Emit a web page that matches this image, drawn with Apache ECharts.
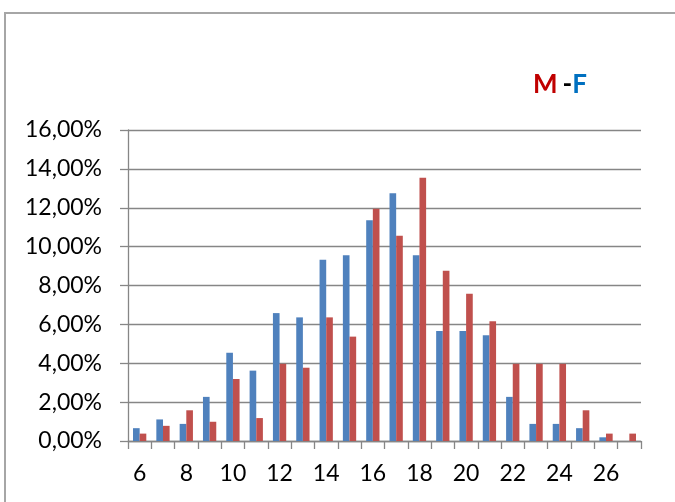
<!DOCTYPE html>
<html>
<head>
<meta charset="utf-8">
<style>
html,body{margin:0;padding:0;background:#fff;}
#chart{width:675px;height:502px;}
</style>
<script src="https://cdn.jsdelivr.net/npm/echarts@6/dist/echarts.min.js"></script>
</head>
<body>
<div id="chart"></div>
<script>
var categories = ['6','7','8','9','10','11','12','13','14','15','16','17','18','19','20','21','22','23','24','25','26','27'];
var femaleValues = [0.66,1.11,0.88,2.27,4.54,3.62,6.58,6.36,9.32,9.56,11.36,12.74,9.56,5.66,5.66,5.44,2.27,0.88,0.88,0.66,0.19,0];
var maleValues = [0.38,0.78,1.58,0.99,3.19,1.18,3.97,3.77,6.36,5.37,11.95,10.56,13.54,8.76,7.57,6.16,3.97,3.97,3.97,1.58,0.38,0.38];
var yMin = 0, yMax = 16, yStep = 2;

var FONT = 'Lato';
var chart = echarts.init(document.getElementById('chart'), null, {renderer: 'canvas'});
chart.setOption({
  animation: false,
  backgroundColor: '#ffffff',
  graphic: [{
    type: 'rect',
    shape: {x: 5, y: 13, width: 700, height: 520},
    style: {fill: 'none', stroke: '#a6a6a6', lineWidth: 2},
    silent: true
  }],
  title: {
    text: '{m|M} {d|-}{f|F}',
    right: 83,
    top: 67,
    textStyle: {
      rich: {
        m: {fontFamily: FONT, fontWeight: 'bold', fontSize: 26, color: '#C00000'},
        d: {fontFamily: FONT, fontWeight: 'bold', fontSize: 26, color: '#000000'},
        f: {fontFamily: FONT, fontWeight: 'bold', fontSize: 26, color: '#0070C0'}
      }
    }
  },
  grid: {left: 128, right: 34, top: 130, bottom: 61, containLabel: false},
  xAxis: {
    type: 'category',
    data: categories,
    boundaryGap: true,
    axisLine: {show: true, lineStyle: {color: '#868686', width: 1.3}},
    axisTick: {show: true, interval: 0, length: 8, lineStyle: {color: '#868686', width: 1.3}},
    axisLabel: {interval: 1, margin: 21, fontFamily: FONT, fontSize: 23, color: '#000'},
    splitLine: {show: false}
  },
  yAxis: {
    type: 'value',
    min: yMin, max: yMax, interval: yStep,
    axisLine: {show: true, lineStyle: {color: '#868686', width: 1.3}},
    axisTick: {show: true, length: 8, inside: false, lineStyle: {color: '#868686', width: 1.3}},
    axisLabel: {
      margin: 26, fontFamily: FONT, fontSize: 23, color: '#000',
      formatter: function (v) { return v.toFixed(2).replace('.', ',') + '%'; }
    },
    splitLine: {show: true, lineStyle: {color: '#868686', width: 1.3}}
  },
  series: [
    {name: 'F', type: 'bar', data: femaleValues, barGap: '0%', barCategoryGap: '43%',
     itemStyle: {color: '#4F81BD'}},
    {name: 'M', type: 'bar', data: maleValues, barGap: '0%', barCategoryGap: '43%',
     itemStyle: {color: '#C0504D'}}
  ]
});
</script>
</body>
</html>
